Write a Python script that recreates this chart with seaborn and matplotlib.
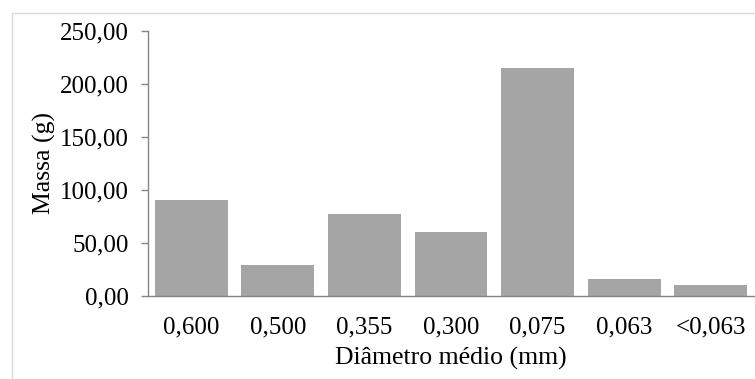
import matplotlib
matplotlib.use("Agg")
import matplotlib.pyplot as plt
from matplotlib.patches import Rectangle
from matplotlib.ticker import FuncFormatter
import seaborn as sns
import pandas as pd

diametros = ["0,600", "0,500", "0,355", "0,300", "0,075", "0,063", "<0,063"]
massas = [90.6, 29.3, 77.0, 60.0, 215.0, 16.0, 10.7]
y_ticks = [0, 50, 100, 150, 200, 250]

sns.set_theme(style="white")
plt.rcParams["font.family"] = ["Liberation Serif", "DejaVu Serif"]

df = pd.DataFrame({"diametro": diametros, "massa": massas})

fig = plt.figure(figsize=(7.55, 3.79), dpi=100)
ax = fig.add_axes([148 / 755, 83 / 379, 606 / 755, 265 / 379])

# thin frame around the chart area
fig.patches.append(Rectangle((12 / 755, -0.1), 1.2, (379 - 13) / 379 + 0.1,
                             transform=fig.transFigure, fill=False,
                             edgecolor="#d9d9d9", linewidth=1.0))

sns.barplot(data=df, x="diametro", y="massa", color="#a5a5a5", saturation=1,
            width=0.84, ax=ax, edgecolor="none")

ax.set_ylim(0, 250)
ax.set_xlim(-0.5, len(diametros) - 0.5)
ax.set_yticks(y_ticks)
ax.yaxis.set_major_formatter(FuncFormatter(lambda v, p: f"{v:.2f}".replace(".", ",")))

for s in ["top", "right"]:
    ax.spines[s].set_visible(False)
for s in ["left", "bottom"]:
    ax.spines[s].set_color("#868686")
    ax.spines[s].set_linewidth(1.0)

ax.tick_params(axis="y", left=True, length=5, width=1, color="#868686",
               labelsize=18, pad=9, labelcolor="black")
ax.tick_params(axis="x", bottom=False, labelsize=18, pad=9, labelcolor="black")

ax.set_xlabel("Diâmetro médio (mm)", fontsize=18.5, color="black", labelpad=6)
ax.set_ylabel("Massa (g)", fontsize=18.5, color="black", labelpad=3)

fig.savefig("out.png", dpi=100)
